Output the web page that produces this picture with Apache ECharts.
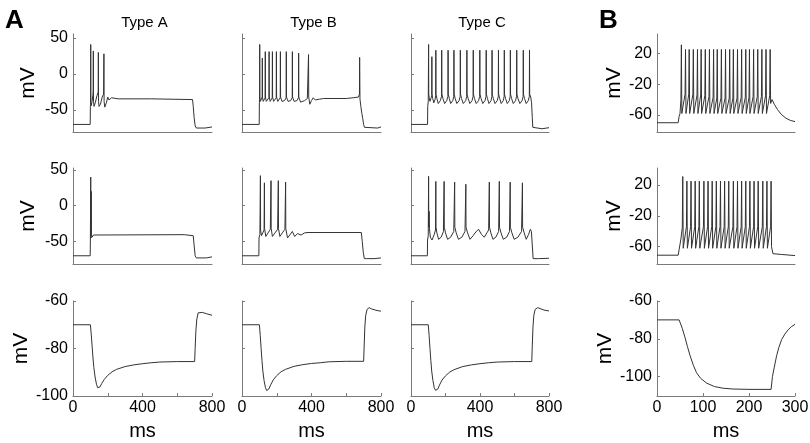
<!DOCTYPE html>
<html><head><meta charset="utf-8">
<script src="https://cdn.jsdelivr.net/npm/echarts@6/dist/echarts.min.js"></script>
<style>html,body{margin:0;padding:0;background:#fff}#c{width:810px;height:443px}</style>
</head><body><div id="c"></div>
<script>
// ---------- data: [time ms, membrane potential mV] ----------
const typeA_top = [[0,-70],[99,-70],[100,-45],[101,-42],[102,41],[103,-40],[105,-44],[110,-38],[114,-30],[116,-25],[117,32],[118,-38],[121,-45],[128,-40],[138,-30],[145,-25],[146,30],[147,-38],[150,-45],[158,-42],[168,-32],[176,-28],[178,28],[179,-38],[183,-46],[192,-40],[200,-32],[207,-36],[215,-38],[222,-33],[232,-34],[260,-34.5],[450,-34.5],[455,-35.5],[688,-35.5],[692,-45],[697,-60],[703,-72],[710,-75],[760,-75],[768,-73.5],[800,-73.5]];
const typeB_top = [[0,-70],[99,-70],[100,-40],[101,-36],[102,41],[103,-32],[106,-38],[112,-36],[116,-32],[117,22],[118,-32],[122,-38],[128,-37],[133,-33],[134,31],[135,-32],[140,-38],[148,-37],[155,-33],[156,31],[157,-32],[162,-38],[170,-37],[174,-33],[175,31],[176,-32],[182,-38],[192,-37],[197,-33],[198,31],[199,-32],[206,-38],[215,-37],[220,-33],[221,31],[222,-32],[230,-38],[245,-37],[254,-33],[255,31],[256,-32],[265,-38],[280,-37],[289,-33],[290,31],[291,-32],[300,-38],[316,-37],[325,-33],[326,29],[327,-32],[337,-39],[360,-37],[376,-34],[382,-32],[383,27],[384,-32],[390,-42],[400,-37],[410,-33],[422,-36],[432,-34],[445,-35],[470,-34],[600,-34],[640,-33],[670,-32],[676,-28],[677,23],[679,-35],[684,-45],[690,-55],[695,-62],[700,-70],[705,-74],[710,-75],[780,-75],[790,-73.5],[800,-73.5]];
const typeC_top = [[0,-70],[96,-70],[97,-45],[100,-38],[102,41],[103,-28],[106,-33],[110,-38],[117,-33],[120,-30],[121,24],[122,-28],[126,-34],[132,-40],[140,-35],[143,-30],[144,33],[145,-28],[150,-34],[158,-41],[170,-37],[177,-31],[178,33],[179,-28],[185,-34],[195,-41],[207,-37],[214,-31],[215,33],[216,-28],[222,-34],[230,-41],[242,-37],[248,-31],[249,33],[250,-28],[256,-34],[266,-41],[279,-37],[285,-31],[286,33],[287,-28],[293,-34],[303,-41],[317,-37],[323,-31],[324,33],[325,-28],[331,-34],[341,-41],[354,-37],[360,-31],[361,33],[362,-28],[368,-34],[378,-41],[392,-37],[398,-31],[399,33],[400,-28],[406,-34],[416,-41],[429,-37],[435,-31],[436,33],[437,-28],[443,-34],[452,-41],[464,-37],[469,-31],[470,33],[471,-28],[477,-34],[487,-41],[500,-37],[506,-31],[507,33],[508,-28],[514,-34],[523,-41],[535,-37],[540,-31],[541,33],[542,-28],[548,-34],[558,-41],[570,-37],[575,-31],[576,33],[577,-28],[583,-34],[593,-41],[606,-37],[612,-31],[613,33],[614,-28],[620,-34],[631,-41],[644,-37],[650,-31],[651,33],[652,-28],[658,-34],[668,-41],[680,-37],[686,-31],[687,33],[688,-28],[694,-32],[699,-40],[703,-60],[706,-74],[712,-76],[760,-76],[770,-74.5],[800,-74.5]];
const panelB_top = [[0,-70],[46,-70],[48,-62],[50,-58],[52,-40],[53,31],[54,-58],[61,-33],[62,25],[63,-58],[69,-33],[70,25],[71,-58],[78,-33],[79,25],[80,-58],[87,-34],[88,25],[89,-58],[95,-34],[96,25],[97,-58],[104,-35],[105,25],[106,-58],[113,-36],[114,25],[115,-58],[122,-37],[123,25],[124,-58],[130,-38],[131,25],[132,-58],[139,-38],[140,25],[141,-58],[148,-38],[149,25],[150,-58],[157,-38],[158,25],[159,-58],[165,-38],[166,25],[167,-58],[174,-38],[175,25],[176,-58],[183,-37],[184,25],[185,-58],[192,-37],[193,25],[194,-58],[200,-37],[201,25],[202,-58],[209,-36],[210,25],[211,-58],[218,-36],[219,25],[220,-58],[227,-36],[228,25],[229,-58],[236,-35],[237,25],[238,-58],[245,-35],[246,25],[247,-45],[250,-40],[255,-46],[262,-53],[270,-59],[280,-64],[290,-67],[300,-68.5]];

const typeA_mid = [[0,-70],[99,-70],[100,-48],[101,-46],[102,40],[103,-40],[104,-45],[105,20],[106,-40],[110,-44],[118,-41],[125,-40.5],[640,-40.5],[645,-42],[692,-42],[697,-55],[703,-70],[710,-73],[768,-73],[772,-71.5],[800,-71.5]];
const typeB_mid = [[0,-70],[97,-70],[98,-45],[103,-40],[106,42],[107,-34],[112,-42],[120,-38],[127,-34],[129,32],[130,-32],[137,-43],[150,-38],[163,-33],[167,35],[168,-32],[175,-43],[190,-38],[205,-33],[209,35],[210,-32],[218,-43],[232,-38],[247,-33],[251,33],[252,-32],[262,-45],[278,-40],[290,-36],[303,-43],[320,-39],[340,-41],[360,-38],[380,-37.5],[687,-37.5],[692,-50],[698,-65],[704,-74],[710,-72],[716,-74],[760,-74],[770,-73],[800,-73]];
const typeC_mid = [[0,-70],[95,-70],[96,-48],[100,-42],[102,41],[103,-30],[105,-8],[107,-32],[112,-44],[122,-48],[135,-40],[142,-34],[144,34],[145,-30],[150,-38],[160,-47],[175,-44],[188,-36],[192,34],[193,-30],[200,-38],[212,-47],[230,-44],[248,-36],[253,33],[254,-30],[262,-38],[275,-47],[295,-44],[313,-36],[318,30],[319,-30],[328,-38],[342,-47],[360,-42],[378,-36],[392,-33],[408,-40],[425,-44],[440,-38],[450,-34],[454,33],[455,-30],[463,-38],[475,-47],[492,-44],[508,-36],[512,34],[513,-30],[522,-38],[535,-47],[555,-44],[571,-36],[575,33],[576,-30],[585,-38],[598,-47],[620,-44],[641,-36],[646,32],[647,-30],[656,-38],[668,-47],[682,-40],[692,-33],[698,-36],[703,-55],[708,-74],[715,-75],[740,-74],[800,-73.5]];
const panelB_mid = [[0,-71],[46,-71],[48,-64],[52,-50],[55,-35],[56,31],[57,-62],[64,-34],[65,25],[66,-62],[73,-34],[74,25],[75,-62],[82,-34],[83,25],[84,-62],[91,-34],[92,25],[93,-62],[101,-34],[102,25],[103,-62],[110,-34],[111,25],[112,-62],[119,-34],[120,25],[121,-62],[128,-34],[129,25],[130,-62],[137,-34],[138,25],[139,-62],[146,-34],[147,25],[148,-62],[155,-34],[156,25],[157,-62],[165,-34],[166,25],[167,-62],[174,-34],[175,25],[176,-62],[183,-34],[184,25],[185,-62],[192,-34],[193,25],[194,-62],[201,-34],[202,25],[203,-62],[210,-34],[211,25],[212,-62],[219,-34],[220,25],[221,-62],[229,-34],[230,25],[231,-62],[238,-34],[239,25],[240,-62],[247,-34],[248,25],[249,-60],[252,-69],[270,-70],[300,-71.5]];

const typeA_bot = [[0,-70],[100,-70],[105,-74],[110,-79],[115,-84],[120,-88],[127,-92],[135,-95],[142,-96.5],[148,-96.8],[155,-96.2],[165,-94.8],[180,-93],[200,-91.3],[225,-89.8],[250,-88.8],[300,-87.6],[350,-86.9],[400,-86.4],[450,-86],[500,-85.7],[600,-85.5],[700,-85.5],[703,-80],[707,-73],[712,-68],[720,-65],[730,-64.3],[745,-64.8],[770,-65.4],[800,-66]];
const typeB_bot = [[0,-70],[100,-70],[105,-74.5],[110,-80],[115,-85],[120,-89.5],[127,-93.5],[135,-96.5],[142,-97.7],[148,-97.8],[155,-97],[165,-95.3],[180,-93.2],[200,-91.4],[225,-89.8],[250,-88.8],[300,-87.5],[350,-86.8],[400,-86.3],[450,-86],[500,-85.6],[600,-85.4],[700,-85.4],[703,-79],[707,-71],[712,-66],[720,-63.5],[732,-62.8],[745,-63.3],[770,-63.9],[800,-64.3]];
const typeC_bot = [[0,-70],[100,-70],[105,-74.5],[110,-80],[115,-85],[120,-89.5],[127,-93.5],[135,-96.5],[142,-97.6],[148,-97.8],[155,-97.1],[165,-95.4],[180,-93.3],[200,-91.5],[225,-89.9],[250,-88.9],[300,-87.6],[350,-86.9],[400,-86.4],[450,-86],[500,-85.7],[600,-85.5],[700,-85.5],[703,-79],[707,-71],[712,-66],[720,-63.5],[734,-62.8],[745,-63.2],[770,-63.8],[800,-64.2]];
const panelB_bot = [[0,-70],[48,-70],[50,-71],[55,-74.5],[61,-79.4],[66,-84],[72,-89],[79,-94],[86,-98],[95,-101],[108,-103.5],[125,-105.3],[144,-106.2],[165,-106.6],[200,-106.8],[248,-106.8],[251,-100],[255,-95],[260,-89],[265,-84.5],[271,-80.4],[278,-77.5],[285,-75.3],[292,-73.6],[300,-72.4]];

const titles = ['Type A','Type B','Type C'];
const panelLetters = ['A','B'];
const yTicksAC = [[-50,0,50],[-50,0,50],[-100,-80,-60]];
const yTicksB = [[-60,-20,20],[-60,-20,20],[-100,-80,-60]];
const xLabelsAC = [0,400,800];
const xTicksAC = [0,200,400,600,800];
const xLabelsB = [0,100,200,300];
const yLabelName = 'mV';
const xLabelName = 'ms';

// ---------- layout ----------
const cols = [{left:73,width:139},{left:242,width:139},{left:411,width:138},{left:657,width:138}];
const rows = [{top:34,height:98},{top:168,height:96},{top:301,height:95}];
const rangesAC = [[-80.5,55.5],[-81.5,52.7],[-100,-60]];
const rangesB = [[-82,45],[-82.4,42],[-110.3,-60]];
const traces = [
  [typeA_top,typeB_top,typeC_top,panelB_top],
  [typeA_mid,typeB_mid,typeC_mid,panelB_mid],
  [typeA_bot,typeB_bot,typeC_bot,panelB_bot]
];

const FONT = 'Liberation Sans, Arial, Helvetica, sans-serif';
const axisCol = '#7a7a7a';
const grid=[],xAxis=[],yAxis=[],series=[];
let k=0;
for(let r=0;r<3;r++){
  for(let c=0;c<4;c++){
    const isB = c===3;
    grid.push({left:cols[c].left,width:cols[c].width,top:rows[r].top,height:rows[r].height,containLabel:false,outerBoundsMode:'none'});
    const bottom = r===2;
    const xl = isB?xLabelsB:xLabelsAC;
    xAxis.push({
      type:'value',gridIndex:k,min:0,max:isB?300:800,
      axisLine:{show:true,onZero:false,lineStyle:{color:axisCol,width:1}},
      splitLine:{show:false},
      axisTick:{show:bottom,inside:true,length:3,lineStyle:{color:axisCol},customValues:isB?xLabelsB:xTicksAC},
      axisLabel:{show:bottom,customValues:xl,margin:4,color:'#000',fontSize:16,fontFamily:FONT},
      name:bottom?xLabelName:'',nameLocation:'middle',nameGap:25,
      nameTextStyle:{fontSize:20,color:'#000',fontFamily:FONT}
    });
    const rng = isB?rangesB[r]:rangesAC[r];
    const yt = isB?yTicksB[r]:yTicksAC[r];
    const showLab = (c===0||c===3);
    yAxis.push({
      type:'value',gridIndex:k,min:rng[0],max:rng[1],
      axisLine:{show:true,onZero:false,lineStyle:{color:axisCol,width:1}},
      splitLine:{show:false},
      axisTick:{show:true,inside:true,length:3,lineStyle:{color:axisCol},customValues:yt},
      axisLabel:{show:showLab,customValues:yt,margin:5,color:'#000',fontSize:16,fontFamily:FONT},
      name:showLab?yLabelName:'',nameLocation:'middle',nameGap:(c===0?34:(r===2?37:30)),
      nameTextStyle:{fontSize:21,color:'#000',fontFamily:FONT}
    });
    series.push({type:'line',xAxisIndex:k,yAxisIndex:k,data:traces[r][c],showSymbol:false,symbol:'none',
      lineStyle:{color:'#333',width:1},silent:true});
    k++;
  }
}
const title = [];
for(let c=0;c<3;c++){
  title.push({text:titles[c],left:cols[c].left+cols[c].width/2-3,top:10,textAlign:'center',
    textStyle:{fontSize:15,fontWeight:'normal',color:'#000',fontFamily:FONT}});
}
title.push({text:panelLetters[0],left:0,top:3,textStyle:{fontSize:26,fontWeight:'bold',color:'#000',fontFamily:FONT}});
title.push({text:panelLetters[1],left:594,top:3,textStyle:{fontSize:26,fontWeight:'bold',color:'#000',fontFamily:FONT}});

const chart = echarts.init(document.getElementById('c'),null,{renderer:'canvas'});
chart.setOption({animation:false,backgroundColor:'#fff',title,grid,xAxis,yAxis,series});
</script></body></html>
